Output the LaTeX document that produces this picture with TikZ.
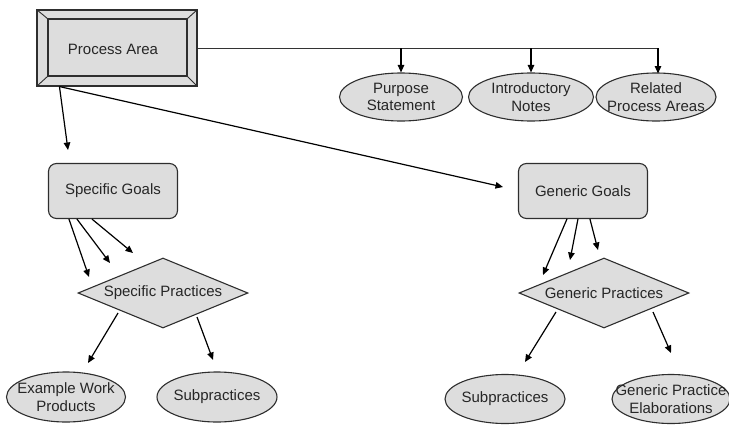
\documentclass[tikz,border=0pt]{standalone}
\usepackage{fontspec}
\setmainfont{Liberation Sans}
\usetikzlibrary{shapes.geometric,arrows.meta}
\definecolor{boxfill}{HTML}{DDDDDD}
\definecolor{edge}{HTML}{2E2E2E}
\tikzset{
  base/.style={draw=edge, line width=1.1pt, fill=boxfill, font=\fontsize{15}{17.5}\selectfont},
  goalbox/.style={base, rectangle, rounded corners=8pt, minimum width=129pt, minimum height=55pt, inner sep=0pt},
  oval/.style={base, ellipse, minimum width=121pt, minimum height=48pt, inner sep=0pt},
  practice/.style={base, diamond, minimum width=170pt, minimum height=70pt, inner sep=0pt},
  lbl/.style={align=center, font=\fontsize{15}{17.5}\selectfont, text=black!85},
  conn/.style={draw=black, line width=1.2pt},
  busline/.style={draw=black!80, line width=0.9pt},
  arr/.style={conn, -{Triangle[length=7.5pt,width=6.5pt]}}
}
\begin{document}
\begin{tikzpicture}[x=1pt,y=-1pt]
\useasboundingbox (0,0) rectangle (729,426);
% Process Area (bevelled box)
\node[base, rectangle, minimum width=160pt, minimum height=76pt, inner sep=0pt] (pa) at (117,48) {};
\draw[draw=edge, line width=1.1pt] (48,19) rectangle (187,76);
\draw[draw=edge, line width=0.9pt] (pa.north west) -- (48,19) (pa.north east) -- (187,19)
  (pa.south west) -- (48,76) (pa.south east) -- (187,76);
\node[lbl] at (113,49) {Process Area};
% top ovals
\node[oval, minimum width=123pt, label={[lbl]center:Purpose\\Statement}] (ps) at (401,97) {};
\node[oval, minimum width=125pt, label={[lbl]center:Introductory\\Notes}] (in) at (531,97) {};
\node[oval, minimum width=120pt, label={[lbl]center:Related\\Process Areas}] (rp) at (656,97) {};
% goals
\node[goalbox, label={[lbl]center:Specific Goals}] (sg) at (113,191) {};
\node[goalbox, label={[lbl]center:Generic Goals}] (gg) at (583,191) {};
% practices
\node[practice, label={[lbl]center:Specific Practices}] (sp) at (163,293) {};
\node[practice, label={[lbl]center:Generic Practices}] (gp) at (604,293) {};
% bottom ovals
\node[oval, minimum width=119pt, minimum height=50pt, label={[lbl]center:Example Work\\Products}] (ew) at (66,397) {};
\node[oval, minimum width=120pt, minimum height=50pt, label={[lbl]center:Subpractices}] (ss) at (217,397) {};
\node[oval, minimum width=120pt, minimum height=49pt, label={[lbl]center:Subpractices}] (gs) at (505,399) {};
\node[oval, minimum width=118pt, minimum height=49pt, label={[lbl]center:Generic Practice\\Elaborations}] (ge) at (671,399) {};
% bus to top ovals
\coordinate (bus1) at (401,48);
\coordinate (bus2) at (531,48);
\coordinate (bus3) at (658,48);
\coordinate (rpin) at (658,73.5);
\draw[busline] (pa.east) -- (bus3);
\draw[arr] (bus1) -- (ps.north);
\draw[arr] (bus2) -- (in.north);
\draw[arr] (bus3) -- (rpin);
% process area to goals
\coordinate (sgin) at (68,150);
\coordinate (ggin) at (503,187);
\draw[arr] ([xshift=23pt]pa.south west) -- (sgin);
\draw[arr] ([xshift=23pt]pa.south west) -- (ggin);
% specific goals to practices
\coordinate (sp1) at (89,277);
\coordinate (sp2) at (110,263);
\coordinate (sp3) at (133,253);
\draw[arr] ([xshift=21pt]sg.south west) -- (sp1);
\draw[arr] ([xshift=29pt]sg.south west) -- (sp2);
\draw[arr] ([xshift=44pt]sg.south west) -- (sp3);
% generic goals to practices
\coordinate (gp1) at (543,275);
\coordinate (gp2) at (570,260);
\coordinate (gp3) at (598,250);
\draw[arr] ([xshift=49pt]gg.south west) -- (gp1);
\draw[arr] ([xshift=60pt]gg.south west) -- (gp2);
\draw[arr] ([xshift=72pt]gg.south west) -- (gp3);
% practices to outputs
\coordinate (spl) at (118,313);
\coordinate (spr) at (197,317);
\coordinate (gpl) at (556,312);
\coordinate (gpr) at (653,312);
\coordinate (ewin) at (88,363);
\coordinate (ssin) at (213,360);
\coordinate (gsin) at (525,362);
\coordinate (gein) at (671,353);
\draw[arr] (spl) -- (ewin);
\draw[arr] (spr) -- (ssin);
\draw[arr] (gpl) -- (gsin);
\draw[arr] (gpr) -- (gein);
\end{tikzpicture}
\end{document}
